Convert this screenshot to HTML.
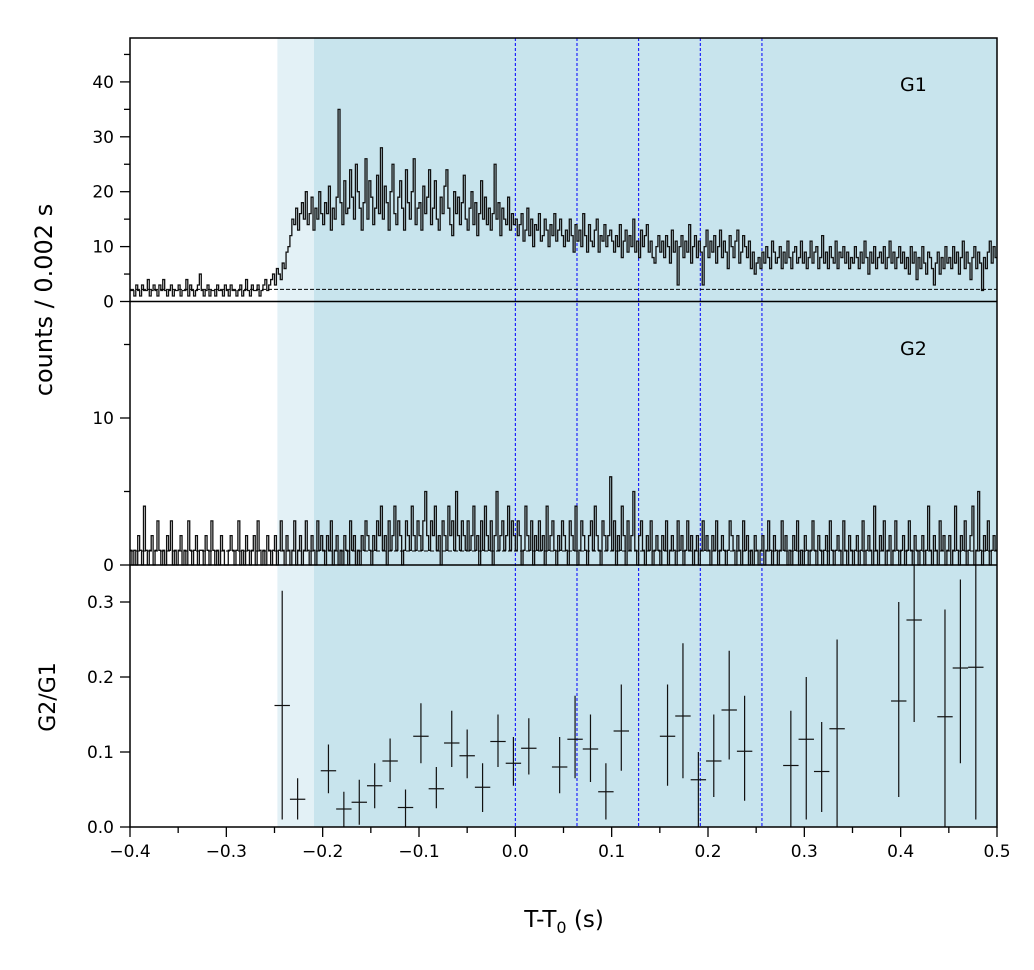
<!DOCTYPE html>
<html><head><meta charset="utf-8"><style>
body{margin:0;background:#fff}
svg text{font-family:"DejaVu Sans","Liberation Sans",sans-serif;fill:#000}
</style></head><body>
<svg id="chart" width="1034" height="965" viewBox="0 0 1034 965" xmlns="http://www.w3.org/2000/svg">
<g id="bg"></g><g id="marks"></g><g id="axes"></g>
<text x="0" y="0" font-size="24" text-anchor="middle" transform="translate(52,300) rotate(-90)">counts /  0.002 s</text>
<text x="0" y="0" font-size="22" text-anchor="middle" transform="translate(55,697) rotate(-90)">G2/G1</text>
<text x="564" y="927" font-size="23" text-anchor="middle">T-T<tspan font-size="16" dy="6">0</tspan><tspan dy="-6"> (s)</tspan></text>
<text x="900" y="91" font-size="19">G1</text>
<text x="900" y="355" font-size="19">G2</text>
</svg>
<script>
const binStart = -0.4;
const binWidth = 0.002;
const g1Counts = [
2,2,1,3,2,1,3,2,2,4,1,2,3,2,1,3,2,4,2,1,2,3,1,2,2,
3,1,2,2,4,1,3,2,1,2,3,5,2,1,2,3,1,2,2,1,3,2,2,1,3,
2,1,3,2,2,1,2,3,1,2,4,2,1,3,2,2,3,1,2,3,4,2,3,4,5,
3,6,5,4,7,6,9,10,12,15,14,17,13,16,18,15,20,14,16,19,13,17,15,20,16,
14,18,16,21,13,17,15,19,35,18,14,22,16,17,24,19,15,25,20,17,13,18,26,15,22,
19,14,17,23,16,28,15,21,18,13,20,25,16,14,19,22,17,13,24,18,15,20,26,14,17,
18,13,21,16,19,24,14,17,22,15,13,19,16,21,24,17,14,12,20,16,19,14,18,23,15,
13,17,20,14,18,12,16,22,15,19,14,17,13,16,25,15,18,12,17,15,14,19,13,16,14,
15,12,14,16,11,13,17,12,15,10,14,13,16,11,12,15,13,10,14,12,16,11,13,15,12,
10,13,11,15,12,9,14,11,13,10,16,12,9,14,11,10,13,15,9,12,11,14,10,12,13,
11,9,12,10,14,8,11,13,9,12,10,15,9,11,8,13,10,12,14,9,11,8,7,10,12,
9,11,8,12,10,7,13,9,11,3,10,12,8,11,9,14,7,10,12,8,11,9,3,10,13,
8,11,9,12,7,10,13,8,11,9,6,12,10,8,11,13,7,9,12,10,8,11,6,9,5,
7,8,6,9,7,10,8,6,11,9,7,8,10,6,9,7,11,8,6,9,10,7,8,11,7,
9,6,8,11,7,9,10,6,8,12,7,9,6,10,8,7,11,6,9,8,10,7,9,6,8,
7,10,8,6,9,7,11,8,5,9,7,10,6,8,9,7,10,6,8,11,7,9,6,8,10,
7,9,6,8,5,10,7,9,4,8,6,10,7,5,9,8,6,3,7,9,5,8,6,10,7,
8,6,10,7,9,5,8,11,6,9,7,4,8,10,6,9,7,2,8,6,9,11,7,10,8];
const g2Counts = [
1,0,1,0,2,1,0,4,1,0,1,2,0,1,3,1,0,1,0,2,1,3,0,1,0,
1,2,0,1,0,3,1,0,1,2,0,1,1,0,2,1,0,3,1,0,1,0,2,1,0,
0,1,2,1,0,1,3,0,1,0,2,1,0,1,2,0,3,1,0,1,0,2,1,0,1,
2,0,1,3,1,0,2,1,0,1,3,0,1,2,0,1,3,1,0,2,1,0,3,1,2,
1,0,2,1,3,0,1,2,0,1,0,2,1,0,3,1,2,0,1,0,2,1,3,2,1,
0,2,1,3,2,4,1,2,0,3,1,2,4,1,3,2,0,1,3,2,1,4,2,1,3,
2,1,3,5,2,1,3,2,4,1,2,0,3,2,1,4,2,3,1,5,2,1,3,2,1,
3,1,2,4,1,2,0,3,1,4,2,1,3,0,2,5,1,2,3,1,2,4,1,3,2,
1,3,2,0,1,4,2,1,3,0,2,1,3,1,2,0,4,1,2,3,1,0,2,1,3,
2,1,0,3,2,1,4,0,1,3,2,1,0,2,3,1,4,2,1,0,3,2,1,2,6,
1,3,0,2,1,4,2,0,3,1,2,5,1,0,2,3,1,0,2,1,3,0,1,2,1,
0,2,1,3,0,1,2,1,0,3,1,2,0,1,3,1,2,0,1,2,0,1,3,1,2,
1,0,2,1,3,0,1,2,1,0,1,3,2,1,0,2,1,0,3,1,2,0,1,0,2,
1,0,1,2,0,1,3,1,0,2,1,0,1,3,1,2,0,1,0,2,1,3,0,1,0,
2,1,0,1,3,1,0,2,1,0,1,2,0,3,1,0,1,2,1,0,3,1,0,2,1,
0,1,2,0,1,3,0,1,2,1,0,4,1,0,2,1,3,0,1,2,0,1,3,1,0,
1,2,0,1,3,1,0,2,1,0,1,2,0,1,4,1,0,2,1,0,3,1,2,0,1,
2,0,1,4,1,0,2,1,3,0,1,2,4,0,1,5,1,0,2,1,3,0,1,2,1];
const g1Background = 2.2;
const g2Background = 0.95;
const ratioTimes = [-0.242,-0.226,-0.194,-0.178,-0.162,-0.146,-0.130,-0.114,-0.098,-0.082,-0.066,-0.050,-0.034,-0.018,-0.002,0.014,0.046,0.062,0.078,0.094,0.110,0.158,0.174,0.190,0.206,0.222,0.238,0.286,0.302,0.318,0.334,0.398,0.414,0.446,0.462,0.478];
const ratioValues = [0.162,0.037,0.075,0.024,0.033,0.055,0.088,0.026,0.121,0.051,0.112,0.095,0.053,0.114,0.085,0.105,0.080,0.117,0.104,0.047,0.128,0.121,0.148,0.063,0.088,0.156,0.101,0.082,0.117,0.074,0.131,0.168,0.276,0.147,0.212,0.213];
const ratioLow = [0.01,0.010,0.045,0.0,0.003,0.025,0.06,0.0,0.085,0.025,0.08,0.065,0.02,0.08,0.055,0.07,0.045,0.065,0.06,0.01,0.075,0.055,0.065,0.0,0.04,0.09,0.035,0.0,0.01,0.02,0.0,0.04,0.14,0.0,0.085,0.01];
const ratioHigh = [0.315,0.065,0.11,0.047,0.063,0.085,0.118,0.05,0.165,0.08,0.155,0.13,0.085,0.15,0.12,0.145,0.12,0.175,0.15,0.085,0.19,0.19,0.245,0.1,0.15,0.235,0.175,0.155,0.2,0.14,0.25,0.3,0.35,0.29,0.33,0.35];
const ratioHalfWidth = 0.008;
const phaseLines = [0, 0.064, 0.128, 0.192, 0.256];
const shadeLight = [-0.247, -0.209];
const shadeDark = [-0.209, 0.5];
const xTicks = [-0.4,-0.3,-0.2,-0.1,0.0,0.1,0.2,0.3,0.4,0.5];
const xTickLabels = ["\u22120.4","\u22120.3","\u22120.2","\u22120.1","0.0","0.1","0.2","0.3","0.4","0.5"];
const g1Ticks = [0,10,20,30,40];
const g2Ticks = [0,10];
const ratioTicks = [0.0,0.1,0.2,0.3];
const ratioTickLabels = ["0.0","0.1","0.2","0.3"];

const NS="http://www.w3.org/2000/svg";
const L=130,R=997,TOP=38,P1B=301.5,P2B=565,P3B=827;
const x=v=>L+(v+0.4)/0.9*(R-L);
const y1=v=>P1B-v*5.49;
const y2=v=>P2B-v*14.7;
const y3=v=>P3B-v*750;
function mk(tag,attrs,parent){const e=document.createElementNS(NS,tag);for(const k in attrs)e.setAttribute(k,attrs[k]);parent.appendChild(e);return e;}
const bg=document.getElementById('bg'),marks=document.getElementById('marks'),axes=document.getElementById('axes');

let r=mk('rect',{x:x(shadeLight[0]),y:TOP,width:x(shadeLight[1])-x(shadeLight[0]),height:P3B-TOP,fill:'#e3f1f6'},bg);


r=mk('rect',{x:x(shadeDark[0]),y:TOP,width:x(shadeDark[1])-x(shadeDark[0]),height:P3B-TOP,fill:'#c8e4ed'},bg);


phaseLines.forEach(t=>{
  const l=mk('line',{x1:x(t),x2:x(t),y1:TOP,y2:P3B,stroke:'#0000ff','stroke-width':1,'stroke-dasharray':'3,2'},bg);
  
  
});

function hist(arr,yf,name){
  let d='';
  arr.forEach((c,i)=>{const xa=x(binStart+i*binWidth),xb=x(binStart+(i+1)*binWidth),yy=yf(c);
    d+=(i===0?'M':'L')+xa.toFixed(2)+','+yy.toFixed(2)+'L'+xb.toFixed(2)+','+yy.toFixed(2);});
  const p=mk('path',{d:d,fill:'none',stroke:'#111','stroke-width':1.3},marks);
  
  
}
hist(g1Counts,y1,'g1-lightcurve');
hist(g2Counts,y2,'g2-lightcurve');
let b=mk('line',{x1:L,x2:R,y1:y1(g1Background),y2:y1(g1Background),stroke:'#000','stroke-width':1,'stroke-dasharray':'4,2'},marks);


b=mk('line',{x1:L,x2:R,y1:y2(g2Background),y2:y2(g2Background),stroke:'#000','stroke-width':1,'stroke-dasharray':'4,2'},marks);



ratioTimes.forEach((t,i)=>{
  const g=mk('g',{stroke:'#111','stroke-width':1.2},marks);
  
  
  mk('line',{x1:x(t-ratioHalfWidth),x2:x(t+ratioHalfWidth),y1:y3(ratioValues[i]),y2:y3(ratioValues[i])},g);
  mk('line',{x1:x(t),x2:x(t),y1:y3(ratioLow[i]),y2:y3(ratioHigh[i])},g);
});

// frame
const fr=mk('rect',{x:L,y:TOP,width:R-L,height:P3B-TOP,fill:'none',stroke:'#000','stroke-width':1.5},axes);


[P1B,P2B].forEach(yy=>{const l=mk('line',{x1:L,x2:R,y1:yy,y2:yy,stroke:'#000','stroke-width':1.5},axes);
  
  });
function ytick(yy,len){mk('line',{x1:L-len,x2:L,y1:yy,y2:yy,stroke:'#000','stroke-width':1.3},axes);}
function ylab(yy,txt){const t=mk('text',{x:L-16,y:yy+6,'font-size':17,'text-anchor':'end'},axes);t.textContent=txt;
  
  }
g1Ticks.forEach(v=>{ytick(y1(v),10);ylab(y1(v),String(v));});
[5,15,25,35,45].forEach(v=>ytick(y1(v),6));
g2Ticks.forEach(v=>{ytick(y2(v),10);ylab(y2(v),String(v));});
[5,15].forEach(v=>ytick(y2(v),6));
ratioTicks.forEach((v,i)=>{ytick(y3(v),10);ylab(y3(v),ratioTickLabels[i]);});
xTicks.forEach((v,i)=>{mk('line',{x1:x(v),x2:x(v),y1:P3B,y2:P3B+10,stroke:'#000','stroke-width':1.3},axes);
  const t=mk('text',{x:x(v),y:P3B+30,'font-size':17,'text-anchor':'middle'},axes);t.textContent=xTickLabels[i];
  
  });
xTicks.slice(0,-1).forEach(v=>mk('line',{x1:x(v+0.05),x2:x(v+0.05),y1:P3B,y2:P3B+6,stroke:'#000','stroke-width':1.3},axes));
</script>
</body></html>
